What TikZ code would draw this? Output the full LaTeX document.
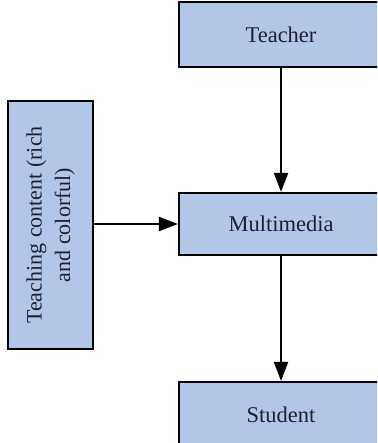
\documentclass[tikz,border=0pt]{standalone}
\usepackage{fontspec}
\setmainfont{Liberation Serif}
\usetikzlibrary{arrows.meta}
\definecolor{boxblue}{RGB}{180,198,231}
\definecolor{txt}{RGB}{30,32,50}
\begin{document}
\begin{tikzpicture}[x=1pt,y=-1pt,
  box/.style={draw=black, line width=2.2pt, fill=boxblue, inner sep=0pt,
    font=\fontsize{22.5}{28}\selectfont, text=txt},
  arr/.style={-{Triangle[length=19pt,width=14pt]}, line width=2.2pt}]
\useasboundingbox (0,0) rectangle (377,443);
\clip (0,0) rectangle (377,443);
\node[box, minimum width=204pt, minimum height=65pt] (teacher) at (281,34.5) {Teacher};
\node[box, minimum width=204pt, minimum height=62pt] (multimedia) at (281,224) {Multimedia};
\node[box, minimum width=204pt, minimum height=66pt] (student) at (281,415) {Student};
\node[box, minimum width=85pt, minimum height=248pt] (content) at (50.5,225) {};
\node[rotate=90, align=center, inner sep=0pt, text=txt,
  font=\fontsize{22}{28.5}\selectfont] (contenttext) at (content.center)
  {Teaching content (rich\\and colorful)};
\draw[arr] (teacher) -- (multimedia);
\draw[arr] (multimedia) -- (student);
\draw[arr] (content.east |- multimedia.west) -- (multimedia.west);
\end{tikzpicture}
\end{document}
